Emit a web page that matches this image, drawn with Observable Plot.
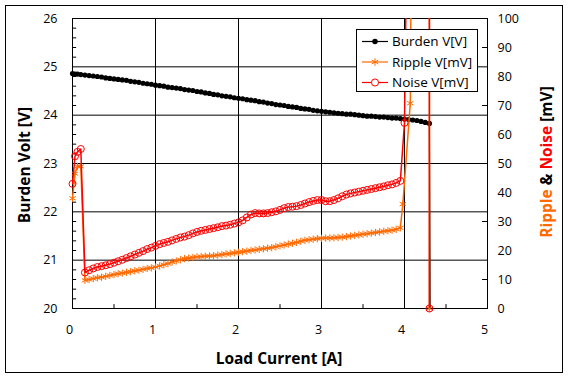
<!DOCTYPE html>
<html><head><meta charset="utf-8">
<script src="https://cdn.jsdelivr.net/npm/d3@7"></script>
<script src="https://cdn.jsdelivr.net/npm/@observablehq/plot@0.6"></script>
<style>
body{margin:0;background:#fff;font-family:"Open Sans",sans-serif;}
#wrap{position:relative;width:568px;height:380px;overflow:hidden;}
#border{position:absolute;left:5px;top:5px;width:558px;height:368px;border:1px solid #000;box-sizing:border-box;pointer-events:none;}
#chart{position:absolute;left:0;top:0;}
.title{position:absolute;font-weight:bold;font-size:15.5px;white-space:nowrap;color:#000;}
#xt{left:279px;top:358px;transform:translate(-50%,-50%);}
#ylt{left:24px;top:165px;transform:translate(-50%,-50%) rotate(-90deg);}
#yrt{left:546px;top:162px;transform:translate(-50%,-50%) rotate(-90deg);}
#legend{position:absolute;left:356px;top:29px;}
</style></head>
<body><div id="wrap"><div id="chart"></div>
<div class="title" id="xt">Load Current [A]</div>
<div class="title" id="ylt">Burden Volt [V]</div>
<div class="title" id="yrt"><span style="color:#ff6a00">Ripple</span> &amp; <span style="color:#ff0000">Noise</span> [mV]</div>
<div id="legend"></div>
<div id="border"></div></div>
<script>
// ---- data ----
const currentTicks = [0, 1, 2, 3, 4, 5];
const voltTicks = [20, 21, 22, 23, 24, 25, 26];
const mvTicks = [0, 10, 20, 30, 40, 50, 60, 70, 80, 90, 100];
const seriesNames = ["Burden V[V]", "Ripple V[mV]", "Noise V[mV]"];

const burdenCurrent = [0,0.03,0.06,0.1,0.15,0.2,0.25,0.3,0.35,0.4,0.45,0.5,0.55,0.6,0.65,0.7,0.75,0.8,0.85,0.9,0.95,1.0,
 1.05,1.1,1.15,1.2,1.25,1.3,1.35,1.4,1.45,1.5,1.55,1.6,1.65,1.7,1.75,1.8,1.85,1.9,1.95,2.0,
 2.05,2.1,2.15,2.2,2.25,2.3,2.35,2.4,2.45,2.5,2.55,2.6,2.65,2.7,2.75,2.8,2.85,2.9,2.95,3.0,
 3.05,3.1,3.15,3.2,3.25,3.3,3.35,3.4,3.45,3.5,3.55,3.6,3.65,3.7,3.75,3.8,3.85,3.9,3.95,
 4.0,4.05,4.1,4.15,4.2,4.25,4.3,4.31];
const burdenV = [24.86,24.85,24.85,24.84,24.83,24.82,24.81,24.80,24.79,24.77,24.76,24.75,24.74,24.73,24.72,24.70,24.69,24.68,24.66,24.65,24.64,24.62,
 24.61,24.60,24.58,24.57,24.56,24.55,24.53,24.52,24.51,24.49,24.48,24.46,24.45,24.43,24.42,24.40,24.39,24.38,24.36,24.35,
 24.34,24.32,24.31,24.30,24.28,24.27,24.25,24.24,24.22,24.21,24.20,24.18,24.17,24.16,24.14,24.13,24.12,24.10,24.09,24.08,
 24.07,24.06,24.05,24.04,24.03,24.02,24.02,24.01,24.00,23.99,23.98,23.98,23.97,23.96,23.96,23.95,23.94,23.94,23.93,
 23.92,23.91,23.90,23.89,23.87,23.85,23.83,19.5];

const rippleCurrent = [0,0.03,0.06,0.1,0.15,0.2,0.25,0.3,0.35,0.4,0.45,0.5,0.55,0.6,0.65,0.7,0.75,0.8,0.85,0.9,0.95,1.0,
 1.05,1.1,1.15,1.2,1.25,1.3,1.35,1.4,1.45,1.5,1.55,1.6,1.65,1.7,1.75,1.8,1.85,1.9,1.95,2.0,
 2.05,2.1,2.15,2.2,2.25,2.3,2.35,2.4,2.45,2.5,2.55,2.6,2.65,2.7,2.75,2.8,2.85,2.9,2.95,3.0,
 3.05,3.1,3.15,3.2,3.25,3.3,3.35,3.4,3.45,3.5,3.55,3.6,3.65,3.7,3.75,3.8,3.85,3.9,3.95,
 3.98,4.07,4.12,4.3,4.3];
const rippleMV = [38,46.5,49,49,9.7,10.0,10.3,10.6,10.8,11.1,11.4,11.7,12.0,12.2,12.5,12.7,13.0,13.2,13.5,13.8,14.0,14.3,
 14.7,15.1,15.5,16.0,16.4,16.8,17.2,17.4,17.6,17.8,17.9,18.0,18.1,18.2,18.4,18.6,18.8,19.0,19.2,19.4,
 19.6,19.8,20.0,20.2,20.4,20.6,20.8,21.0,21.3,21.6,21.9,22.2,22.5,22.8,23.2,23.5,23.7,23.9,24.1,24.2,
 24.3,24.3,24.4,24.5,24.6,24.8,25.0,25.2,25.4,25.6,25.8,26.0,26.2,26.4,26.6,26.8,27.0,27.3,27.8,
 36,70.8,300,300,0];

const noiseCurrent = [0,0.03,0.06,0.1,0.15,0.2,0.25,0.3,0.35,0.4,0.45,0.5,0.55,0.6,0.65,0.7,0.75,0.8,0.85,0.9,0.95,1.0,
 1.05,1.1,1.15,1.2,1.25,1.3,1.35,1.4,1.45,1.5,1.55,1.6,1.65,1.7,1.75,1.8,1.85,1.9,1.95,2.0,
 2.05,2.1,2.15,2.2,2.25,2.3,2.35,2.4,2.45,2.5,2.55,2.6,2.65,2.7,2.75,2.8,2.85,2.9,2.95,3.0,
 3.05,3.1,3.15,3.2,3.25,3.3,3.35,3.4,3.45,3.5,3.55,3.6,3.65,3.7,3.75,3.8,3.85,3.9,3.95,
 4.0,4.1,4.3,4.3];
const noiseMV = [43,52.5,54,55,12.4,13.2,13.8,14.3,14.6,14.9,15.3,15.8,16.3,16.8,17.4,18.0,18.6,19.2,19.8,20.5,21.0,21.6,
 22.2,22.6,23.0,23.5,24.0,24.5,24.8,25.3,25.9,26.4,26.8,27.1,27.4,27.7,28.0,28.4,28.6,28.9,29.3,29.7,
 30.4,31.4,32.4,32.9,32.8,32.8,32.9,33.2,33.5,34.0,34.6,35.0,35.1,35.3,35.7,36.2,36.7,37.1,37.4,37.4,
 37.0,37.0,37.4,38.0,38.7,39.3,39.7,40.0,40.3,40.6,40.9,41.2,41.5,41.8,42.1,42.5,42.8,43.3,44.0,
 64,300,300,0];

// ---- styling ----
const ORANGE = "#ff6a00", RED = "#ff0000";
const mvToV = mv => 20 + mv * (voltTicks[voltTicks.length-1] - voltTicks[0]) / mvTicks[mvTicks.length-1];

const burden = burdenCurrent.map((x, i) => ({x, y: burdenV[i]}));
const ripple = rippleCurrent.map((x, i) => ({x, y: mvToV(rippleMV[i]), mv: rippleMV[i]}));
const noise = noiseCurrent.map((x, i) => ({x, y: mvToV(noiseMV[i]), mv: noiseMV[i]}));

const minorV = d3.range(20, 26.001, 0.2).filter(v => Math.abs(v - Math.round(v)) > 1e-6);
const minorA = [0.5, 1.5, 2.5, 3.5, 4.5];
const rightMinor = mvTicks.filter(v => v % 20 === 10).map(mvToV);

const chart = Plot.plot({
  width: 568, height: 380,
  marginLeft: 72, marginRight: 81, marginTop: 18, marginBottom: 72,
  x: {domain: [0, 5]},
  y: {domain: [20, 26]},
  style: {fontFamily: "'Open Sans', sans-serif", fontSize: "12.5px", color: "#000", background: "transparent", overflow: "visible"},
  marks: [
    Plot.gridX([1, 2, 3, 4], {stroke: "#000", strokeOpacity: 1}),
    Plot.gridY([21, 22, 23, 24, 25], {stroke: "#000", strokeOpacity: 1}),
    Plot.frame({stroke: "#000"}),
    Plot.ruleY(minorV, {y: d => d, x1: 0, x2: 0.05, stroke: "#000"}),
    Plot.ruleY(rightMinor, {y: d => d, x1: 4.94, x2: 5, stroke: "#000"}),
    Plot.ruleX(minorA, {x: d => d, y1: 20, y2: 20.08, stroke: "#000"}),
    Plot.axisX(currentTicks, {tickSize: 0, tickPadding: 17, dx: -3, label: null, fill: "#000"}),
    Plot.axisY(voltTicks, {anchor: "left", tickSize: 0, tickPadding: 15, label: null, fill: "#000"}),
    Plot.axisY(mvTicks.map(mvToV), {anchor: "right", tickSize: 0, tickPadding: 10, label: null, fill: "#000",
      tickFormat: d => String(Math.round((d - 20) * 100 / 6))}),
    // Burden
    Plot.line(burden, {x: "x", y: "y", stroke: "#000", strokeWidth: 1.2, clip: true}),
    Plot.dot(burden.filter(d => d.y >= 20), {x: "x", y: "y", r: 2.6, fill: "#000", stroke: "none"}),
    // Ripple
    Plot.line(ripple, {x: "x", y: "y", stroke: ORANGE, strokeWidth: 1.5, clip: true}),
    Plot.dot(ripple.filter(d => d.mv <= 100), {x: "x", y: "y", r: 3.4, symbol: "asterisk", stroke: ORANGE, strokeWidth: 1}),
    // Noise
    Plot.line(noise, {x: "x", y: "y", stroke: RED, strokeWidth: 1.5, clip: true}),
    Plot.dot(noise.filter(d => d.mv <= 100), {x: "x", y: "y", r: 3.5, symbol: "circle", stroke: RED, fill: "none", strokeWidth: 1})
  ]
});
document.getElementById("chart").append(chart);

// ---- legend ----
const lg = d3.select("#legend").append("svg").attr("width", 122).attr("height", 63)
  .style("font-family", "'Open Sans', sans-serif").style("font-size", "13.5px");
lg.append("rect").attr("x", 0.5).attr("y", 0.5).attr("width", 121).attr("height", 62)
  .attr("fill", "#fff").attr("stroke", "#000");
const legendColors = ["#000", ORANGE, RED];
const legendSymbols = [d3.symbolCircle, d3.symbolAsterisk, d3.symbolCircle];
seriesNames.forEach((name, i) => {
  const cy = 12.5 + i * 20.5;
  const g = lg.append("g");
  g.append("line").attr("x1", 6).attr("x2", 32).attr("y1", cy).attr("y2", cy)
    .attr("stroke", legendColors[i]).attr("stroke-width", 1.2);
  const p = g.append("path").attr("transform", `translate(19,${cy})`)
    .attr("d", d3.symbol(legendSymbols[i], i === 0 ? 24 : 40)());
  if (i === 0) p.attr("fill", "#000");
  else p.attr("fill", i === 2 ? "#fff" : "none").attr("stroke", legendColors[i]);
  g.append("text").attr("x", 36).attr("y", cy).attr("dy", "0.35em").attr("fill", "#000").text(name);
});
</script></body></html>
